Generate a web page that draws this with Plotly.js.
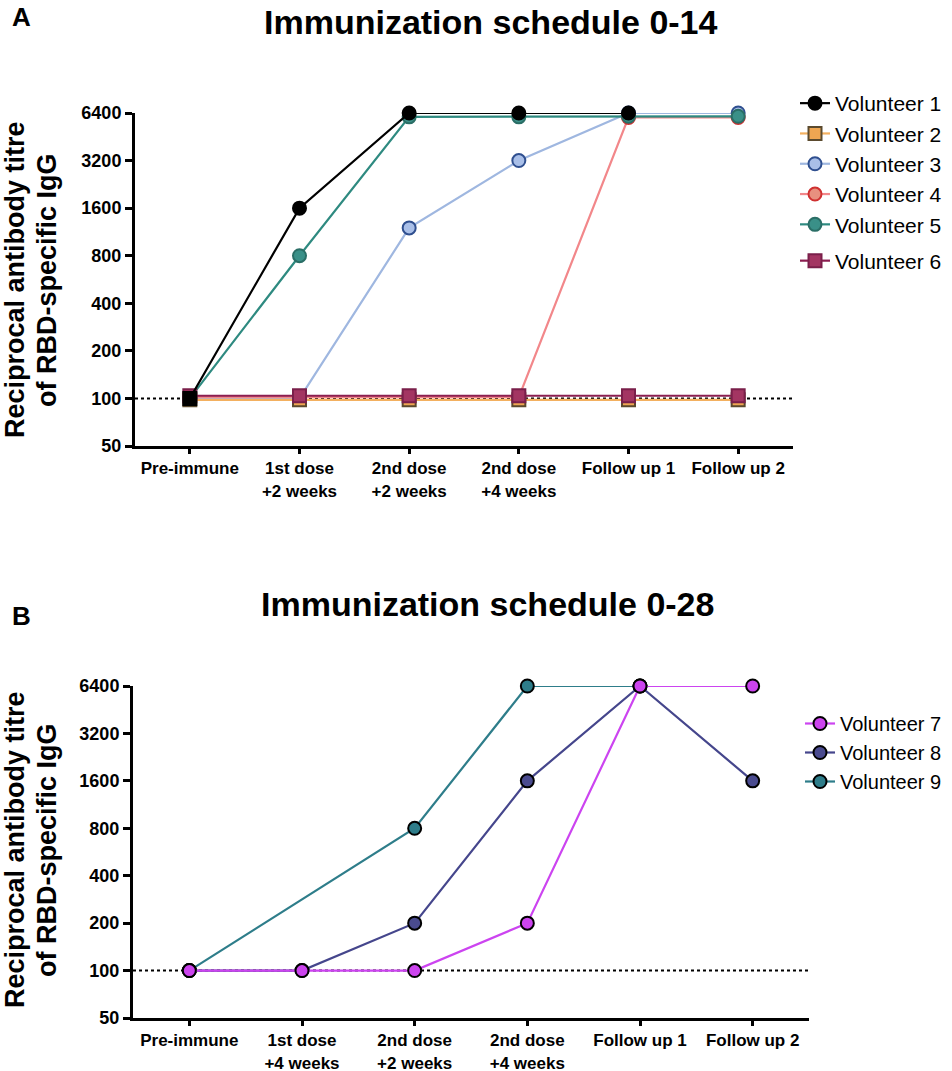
<!DOCTYPE html>
<html>
<head>
<meta charset="utf-8">
<script src="https://cdn.plot.ly/plotly-3.0.1.min.js"></script>
<style>html,body{margin:0;padding:0;background:#fff;}#chart{width:952px;height:1071px;}</style>
</head>
<body>
<div id="chart"></div>
<script>
// ---- Data ----
const positions = [0, 1, 2, 3, 4, 5];
const categoriesA = ['Pre-immune', '1st dose<br>+2 weeks', '2nd dose<br>+2 weeks', '2nd dose<br>+4 weeks', 'Follow up 1', 'Follow up 2'];
const categoriesB = ['Pre-immune', '1st dose<br>+4 weeks', '2nd dose<br>+2 weeks', '2nd dose<br>+4 weeks', 'Follow up 1', 'Follow up 2'];
const yTickValues = [50, 100, 200, 400, 800, 1600, 3200, 6400];
const yTickLabels = ['50', '100', '200', '400', '800', '1600', '3200', '6400'];
const baseline = 100;

const volunteer1 = [100, 1600, 6400, 6400, 6400, null];
const volunteer2 = [98, 98, 98, 98, 98, 98];
const volunteer3 = [100, 100, 1200, 3200, 6400, 6400];
const volunteer4 = [102, 102, 102, 102, 6000, 6000];
const volunteer5 = [100, 800, 6050, 6050, 6100, 6100];
const volunteer6 = [104, 104, 104, 104, 104, 104];

const volunteer7 = [100, 100, 100, 200, 6400, 6400];
const volunteer8 = [100, 100, 200, 1600, 6400, 1600];
const volunteer9 = [100, null, 800, 6400, 6400, null];

// ---- Styling ----
const FONT = 'Liberation Sans, Arial, Helvetica, sans-serif';

function series(name, y, xa, ya, legend, lineColor, fill, outline, symbol, rank, group) {
  return {
    type: 'scatter', mode: 'lines+markers', name: name,
    x: positions, y: y, xaxis: xa, yaxis: ya, legend: legend,
    connectgaps: true, cliponaxis: false, legendrank: rank, legendgroup: group,
    line: {color: lineColor, width: 2.2},
    marker: {symbol: symbol, size: 13, color: fill, line: {color: outline, width: 2}}
  };
}
function refLine(xa, ya) {
  return {
    type: 'scatter', mode: 'lines', x: [-0.5, 5.5], y: [baseline, baseline],
    xaxis: xa, yaxis: ya, showlegend: false, hoverinfo: 'skip', cliponaxis: false,
    line: {color: '#000', width: 2, dash: 'dot'}
  };
}

// Volunteer 1: plotted trace (square at pre-immune) + legend proxy with circle symbol
const v1Plot = series('Volunteer 1', volunteer1, 'x', 'y', 'legend', '#000000', '#000000', '#000000',
       ['square', 'circle', 'circle', 'circle', 'circle', 'circle'], 1, 'g1');
v1Plot.showlegend = false;
const v1Legend = series('Volunteer 1', [null], 'x', 'y', 'legend', '#000000', '#000000', '#000000', 'circle', 1, 'g1');
v1Legend.x = [null];

const traces = [
  refLine('x', 'y'),
  v1Legend,
  series('Volunteer 3', volunteer3, 'x', 'y', 'legend', '#9fb7e0', '#a9bfe8', '#2f4f8f', 'circle', 3, 'g1'),
  series('Volunteer 4', volunteer4, 'x', 'y', 'legend', '#f2878a', '#e8907f', '#cf3030', 'circle', 4, 'g1'),
  series('Volunteer 5', volunteer5, 'x', 'y', 'legend', '#2e8a80', '#3a9088', '#2a6e66', 'circle', 5, 'g1'),
  series('Volunteer 2', volunteer2, 'x', 'y', 'legend', '#f3b060', '#efa652', '#5b4a2e', 'square', 2, 'g1'),
  series('Volunteer 6', volunteer6, 'x', 'y', 'legend', '#8b1e50', '#a33562', '#7a1f4a', 'square', 6, 'g2'),
  v1Plot,

  refLine('x2', 'y2'),
  series('Volunteer 9', volunteer9, 'x2', 'y2', 'legend2', '#2e7d8a', '#2e7d8a', '#000000', 'circle', 9, 'h'),
  series('Volunteer 8', volunteer8, 'x2', 'y2', 'legend2', '#45468c', '#4a4b8f', '#000000', 'circle', 8, 'h'),
  series('Volunteer 7', volunteer7, 'x2', 'y2', 'legend2', '#cc44f0', '#cc44ee', '#000000', 'circle', 7, 'h')
];

const W = 952, H = 1071;
const px = v => v / W;
const py = v => 1 - v / H;

const xTickFont = {family: FONT, size: 17, color: '#000', weight: 'bold'};
const yTickFont = {family: FONT, size: 18, color: '#000', weight: 'bold'};
function xAxis(ticktext, d0, d1, anchor) {
  return {
    domain: [px(d0), px(d1)], anchor: anchor, range: [-0.5, 5.5],
    tickvals: positions, ticktext: ticktext, tickfont: xTickFont,
    showline: true, linecolor: '#000', linewidth: 3, mirror: false,
    ticks: 'outside', ticklen: 5, tickwidth: 3, tickcolor: '#000',
    showgrid: false, zeroline: false, fixedrange: true
  };
}
function yAxis(t, b, anchor) {
  return {
    domain: [py(b), py(t)], anchor: anchor, type: 'log',
    range: [Math.log10(50), Math.log10(6400)],
    tickvals: yTickValues, ticktext: yTickLabels, tickfont: yTickFont,
    showline: true, linecolor: '#000', linewidth: 3,
    ticks: 'outside', ticklen: 7, tickwidth: 3, tickcolor: '#000',
    showgrid: false, zeroline: false, fixedrange: true
  };
}

const titleFont = {family: FONT, size: 34, color: '#000', weight: 'bold'};
const axTitleFont = {family: FONT, size: 27, color: '#000', weight: 'bold'};
const letterFont = {family: FONT, size: 26, color: '#000', weight: 'bold'};

function ann(text, x, y, font, extra) {
  return Object.assign({text: text, xref: 'paper', yref: 'paper', x: px(x), y: py(y),
    xanchor: 'center', yanchor: 'middle', showarrow: false, font: font}, extra || {});
}

const layout = {
  width: W, height: H,
  margin: {l: 0, r: 0, t: 0, b: 0},
  paper_bgcolor: '#fff', plot_bgcolor: '#fff',
  font: {family: FONT, color: '#000'},
  xaxis: xAxis(categoriesA, 135, 793, 'y'),
  yaxis: yAxis(113, 446, 'x'),
  xaxis2: xAxis(categoriesB, 133, 809, 'y2'),
  yaxis2: yAxis(686, 1018, 'x2'),
  legend: {x: px(795), y: py(83), xanchor: 'left', yanchor: 'top',
           font: {family: FONT, size: 21, color: '#000'},
           bgcolor: 'rgba(0,0,0,0)', itemwidth: 30, tracegroupgap: 6},
  legend2: {x: px(800), y: py(704), xanchor: 'left', yanchor: 'top',
            font: {family: FONT, size: 20, color: '#000'},
            bgcolor: 'rgba(0,0,0,0)', itemwidth: 30, tracegroupgap: 0},
  showlegend: true,
  annotations: [
    ann('Immunization schedule 0-14', 491, 22, titleFont),
    ann('Immunization schedule 0-28', 488, 604, titleFont),
    ann('A', 10, 17, letterFont, {xanchor: 'left'}),
    ann('B', 10, 616, letterFont, {xanchor: 'left'}),
    ann('Reciprocal antibody titre', 15, 280, axTitleFont, {textangle: -90}),
    ann('of RBD-specific IgG', 47, 280, axTitleFont, {textangle: -90}),
    ann('Reciprocal antibody titre', 15, 850, axTitleFont, {textangle: -90}),
    ann('of RBD-specific IgG', 47, 850, axTitleFont, {textangle: -90})
  ]
};

Plotly.newPlot('chart', traces, layout, {displayModeBar: false, staticPlot: true});
</script>
</body>
</html>
